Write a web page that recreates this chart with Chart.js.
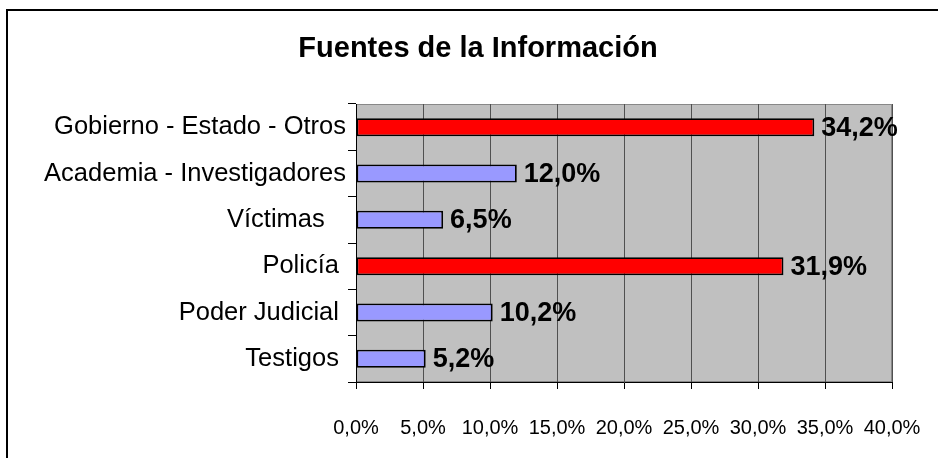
<!DOCTYPE html>
<html>
<head>
<meta charset="utf-8">
<script src="https://cdn.jsdelivr.net/npm/chart.js@4.4.1/dist/chart.umd.min.js"></script>
<style>
  html, body { margin: 0; padding: 0; background: #fff; overflow: hidden; width: 938px; height: 458px; }
  #frame { position: absolute; left: 6px; top: 9px; width: 2000px; height: 2000px; border: 2px solid #000; box-sizing: border-box; }
  #c { position: absolute; left: 0; top: 0; }
</style>
</head>
<body>
<div id="frame"></div>
<canvas id="c" width="938" height="458"></canvas>
<script>
// ---- data ----
const chartTitle = "Fuentes de la Información";
const categories = [
  "Gobierno - Estado - Otros",
  "Academia - Investigadores",
  "Víctimas   ",
  "Policía ",
  "Poder Judicial ",
  "Testigos "
];
const values = [34.2, 12.0, 6.5, 31.9, 10.2, 5.2];
const xTickLabels = ["0,0%", "5,0%", "10,0%", "15,0%", "20,0%", "25,0%", "30,0%", "35,0%", "40,0%"];

// ---- styles ----
const barColors = ["#FF0000", "#9999FF", "#9999FF", "#FF0000", "#9999FF", "#9999FF"];
const FONT = "'Liberation Sans', Arial, Helvetica, sans-serif";

const titlePlugin = {
  id: 'titleText',
  afterDraw(chart) {
    const { ctx } = chart;
    ctx.save();
    ctx.font = "bold 29px " + FONT;
    ctx.fillStyle = '#000';
    ctx.textAlign = 'center';
    ctx.textBaseline = 'middle';
    ctx.fillText(chartTitle, 478, 49);
    ctx.restore();
  }
};

const plotBg = {
  id: 'plotBg',
  beforeDraw(chart) {
    const { ctx, chartArea: a } = chart;
    ctx.save();
    ctx.fillStyle = '#C0C0C0';
    ctx.fillRect(a.left, a.top, a.right - a.left, a.bottom - a.top);
    ctx.strokeStyle = '#888888';
    ctx.lineWidth = 1;
    ctx.strokeRect(a.left + 0.5, a.top + 0.5, a.right - a.left - 1, a.bottom - a.top - 1);
    ctx.restore();
  }
};

const valueLabels = {
  id: 'valueLabels',
  afterDatasetsDraw(chart) {
    const { ctx } = chart;
    const meta = chart.getDatasetMeta(0);
    ctx.save();
    ctx.font = "bold 27px " + FONT;
    ctx.fillStyle = '#000';
    ctx.textAlign = 'left';
    ctx.textBaseline = 'middle';
    meta.data.forEach((bar, i) => {
      const txt = values[i].toFixed(1).replace('.', ',') + '%';
      ctx.fillText(txt, bar.x + 7, bar.y + 1);
    });
    ctx.restore();
  }
};

new Chart(document.getElementById('c'), {
  type: 'bar',
  data: {
    labels: categories,
    datasets: [{
      data: values,
      backgroundColor: barColors,
      borderColor: '#000',
      borderWidth: 1.8,
      borderSkipped: false,
      barPercentage: 0.39,
      categoryPercentage: 1.0
    }]
  },
  options: {
    indexAxis: 'y',
    responsive: false,
    animation: false,
    devicePixelRatio: 1,
    layout: { padding: { left: 0, right: 46, top: 104, bottom: 0 } },
    plugins: {
      legend: { display: false },
      tooltip: { enabled: false },
      title: { display: false }
    },
    scales: {
      x: {
        min: 0,
        max: 40,
        afterFit(scale) { scale.height = 76; scale.paddingLeft = 0; scale.paddingRight = 0; },
        ticks: {
          stepSize: 5,
          color: '#000',
          font: { family: FONT, size: 20 },
          padding: 27,
          maxRotation: 0,
          autoSkip: false,
          callback: (v, i) => xTickLabels[i]
        },
        grid: { color: '#505050', lineWidth: 1, tickLength: 7, tickColor: '#000', drawOnChartArea: true },
        border: { display: true, color: '#000', width: 1 }
      },
      y: {
        afterFit(scale) { scale.width = 356; },
        ticks: {
          color: '#000',
          font: { family: FONT, size: 25.5 },
          padding: 2
        },
        grid: { drawOnChartArea: false, tickLength: 8, tickColor: '#000', color: '#000' },
        border: { display: true, color: '#000', width: 1 }
      }
    }
  },
  plugins: [plotBg, valueLabels, titlePlugin]
});
</script>
</body>
</html>
